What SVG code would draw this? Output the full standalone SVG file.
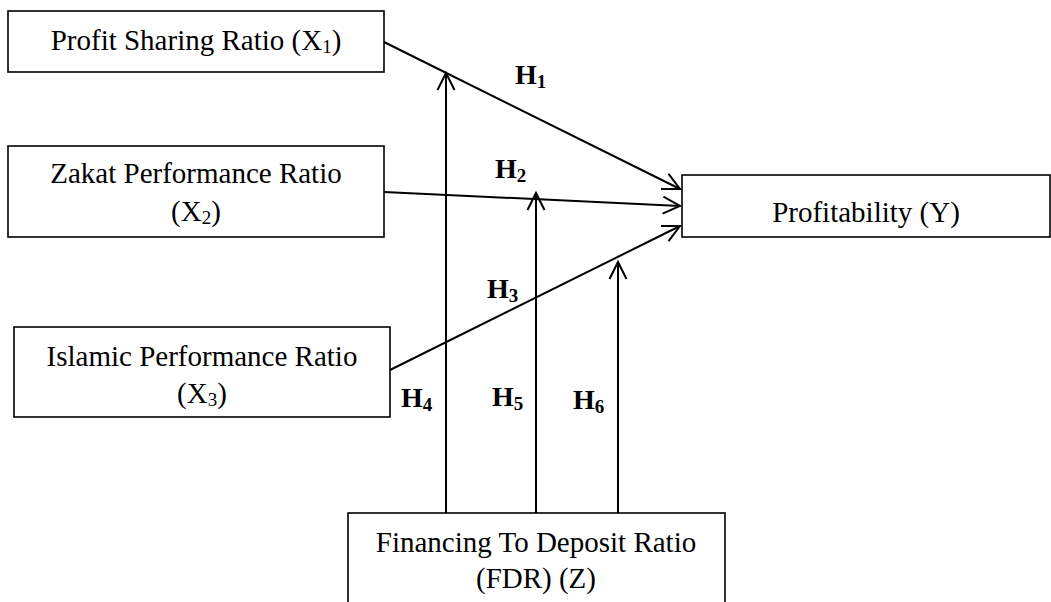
<svg xmlns="http://www.w3.org/2000/svg" width="1051" height="602" viewBox="0 0 1051 602">
<style>
.box{fill:#fff;stroke:#000;stroke-width:1.6}
.t{font-family:"Liberation Serif","Times New Roman",serif;font-size:29px;fill:#000;text-anchor:middle}
.h{font-family:"Liberation Serif","Times New Roman",serif;font-size:28px;font-weight:bold;fill:#000}
.sub{font-size:19px}
.c{stroke:#000;stroke-width:2;fill:none}
</style>
<defs>
<marker id="arr" markerUnits="userSpaceOnUse" markerWidth="30" markerHeight="30" viewBox="-20 -15 30 30" refX="0" refY="0" orient="auto" overflow="visible">
<path d="M-17,-8.5 L0,0 L-17,8.5" fill="none" stroke="#000" stroke-width="2"/>
</marker>
</defs>
<rect width="1051" height="602" fill="#fff"/>
<g id="connectors">
<line class="c" x1="384" y1="42" x2="680" y2="189" marker-end="url(#arr)"/>
<line class="c" x1="384" y1="192" x2="680" y2="206" marker-end="url(#arr)"/>
<line class="c" x1="390" y1="370" x2="680" y2="226" marker-end="url(#arr)"/>
<line class="c" x1="446" y1="513" x2="446" y2="73" marker-end="url(#arr)"/>
<line class="c" x1="536" y1="513" x2="536" y2="193" marker-end="url(#arr)"/>
<line class="c" x1="618" y1="513" x2="618" y2="262" marker-end="url(#arr)"/>
</g>
<g id="labels">
<text class="h" x="515" y="84">H<tspan class="sub" dy="4">1</tspan></text>
<text class="h" x="495" y="178">H<tspan class="sub" dy="4">2</tspan></text>
<text class="h" x="487" y="298">H<tspan class="sub" dy="4">3</tspan></text>
<text class="h" x="401" y="407">H<tspan class="sub" dy="4">4</tspan></text>
<text class="h" x="492" y="406">H<tspan class="sub" dy="4">5</tspan></text>
<text class="h" x="573" y="409">H<tspan class="sub" dy="4">6</tspan></text>
</g>
<g id="x1">
<rect class="box" x="8" y="11" width="376" height="61"/>
<text class="t" x="196" y="50">Profit Sharing Ratio (X<tspan class="sub" dy="3">1</tspan><tspan dy="-3">)</tspan></text>
</g>
<g id="x2">
<rect class="box" x="8" y="146" width="376" height="91"/>
<text class="t" x="196" y="183">Zakat Performance Ratio</text>
<text class="t" x="196" y="221">(X<tspan class="sub" dy="3">2</tspan><tspan dy="-3">)</tspan></text>
</g>
<g id="x3">
<rect class="box" x="14" y="327" width="376" height="90"/>
<text class="t" x="202" y="366">Islamic Performance Ratio</text>
<text class="t" x="202" y="403">(X<tspan class="sub" dy="3">3</tspan><tspan dy="-3">)</tspan></text>
</g>
<g id="y">
<rect class="box" x="682" y="175" width="368" height="62"/>
<text class="t" x="866" y="222">Profitability (Y)</text>
</g>
<g id="z">
<rect class="box" x="348" y="513" width="377" height="120"/>
<text class="t" x="536" y="552">Financing To Deposit Ratio</text>
<text class="t" x="536" y="588">(FDR) (Z)</text>
</g>
</svg>
